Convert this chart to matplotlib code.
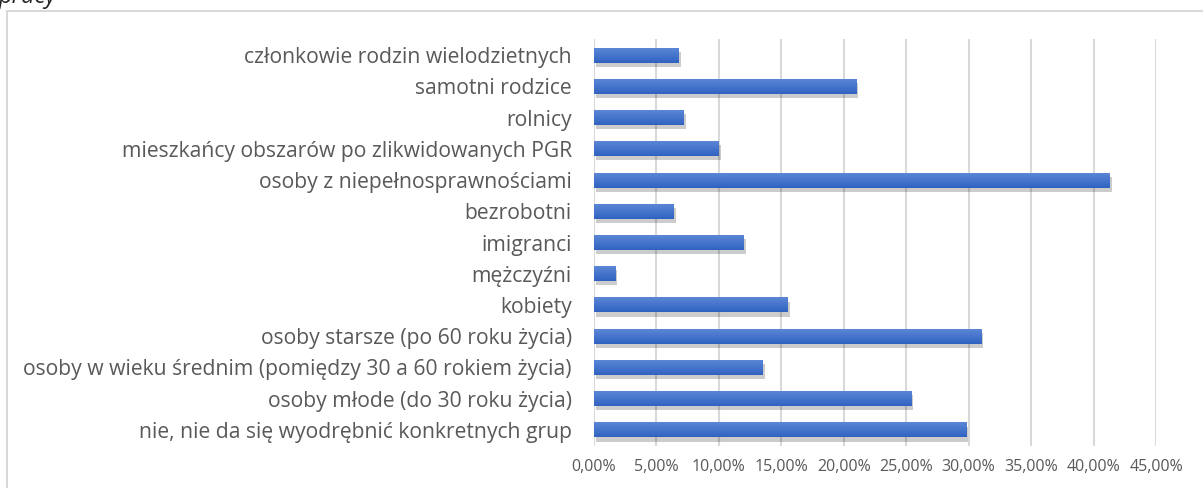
import matplotlib as mpl
import matplotlib.pyplot as plt
import numpy as np
from matplotlib import patheffects
from matplotlib.colors import LinearSegmentedColormap
from matplotlib.patches import Rectangle
from matplotlib.ticker import FuncFormatter

mpl.rcParams['font.family'] = ['Open Sans', 'DejaVu Sans']

categories = [
    'członkowie rodzin wielodzietnych',
    'samotni rodzice',
    'rolnicy',
    'mieszkańcy obszarów po zlikwidowanych PGR',
    'osoby z niepełnosprawnościami',
    'bezrobotni',
    'imigranci',
    'mężczyźni',
    'kobiety',
    'osoby starsze (po 60 roku życia)',
    'osoby w wieku średnim (pomiędzy 30 a 60 rokiem życia)',
    'osoby młode (do 30 roku życia)',
    'nie, nie da się wyodrębnić konkretnych grup',
]
values = [6.8, 21.0, 7.2, 10.0, 41.3, 6.4, 12.0, 1.7, 15.5, 31.0, 13.5, 25.4, 29.8]
x_ticks = [0, 5, 10, 15, 20, 25, 30, 35, 40, 45]

W, H = 1203, 488
fig = plt.figure(figsize=(W / 100, H / 100), dpi=100)

# chart frame (cut off on the right and bottom like the original)
fig.patches.append(Rectangle((7 / W, -0.1), 1.2, (H - 11) / H + 0.1,
                             transform=fig.transFigure, fill=False,
                             edgecolor='#d9d9d9', lw=1.5))
# leftover of the caption above the chart, cut at the top edge
fig.text(-1 / W, 1 - 3 / H, 'pracy', style='italic', fontsize=17,
         color='#262626', va='baseline', ha='left')

left, right, top, bottom = 594, 1156, 39.4, 445.6
ax = fig.add_axes([left / W, (H - bottom) / H, (right - left) / W, (bottom - top) / H])

bar_h = 0.48
grad = LinearSegmentedColormap.from_list('bar', ['#5b86d6', '#3063c1'])
y = list(range(len(categories)))
bars = ax.barh(y, values, height=bar_h, color='#4472C4', zorder=3)
for b, yi, v in zip(bars, y, values):
    b.set_path_effects([patheffects.SimplePatchShadow(offset=(1.5, -3), shadow_rgbFace='k', alpha=0.2),
                        patheffects.Normal()])
    ax.imshow(np.linspace(0, 1, 32).reshape(-1, 1), extent=[0, v, yi + bar_h / 2, yi - bar_h / 2],
              cmap=grad, aspect='auto', zorder=4, interpolation='bilinear')

ax.set_ylim(len(categories) - 0.5, -0.5)
ax.set_xlim(0, 45)
ax.set_yticks(y)
ax.set_yticklabels(categories, fontsize=15.2, color='#595959')
ax.set_xticks(x_ticks)
ax.xaxis.set_major_formatter(FuncFormatter(lambda v, p: f'{v:.2f}'.replace('.', ',') + '%'))
ax.tick_params(axis='x', labelsize=11.5, labelcolor='#595959', length=0, pad=10)
ax.tick_params(axis='y', length=0, pad=16)
ax.grid(axis='x', color='#d9d9d9', lw=1.5, zorder=0)
for s in ax.spines.values():
    s.set_visible(False)

plt.savefig('out.png', dpi=100)
